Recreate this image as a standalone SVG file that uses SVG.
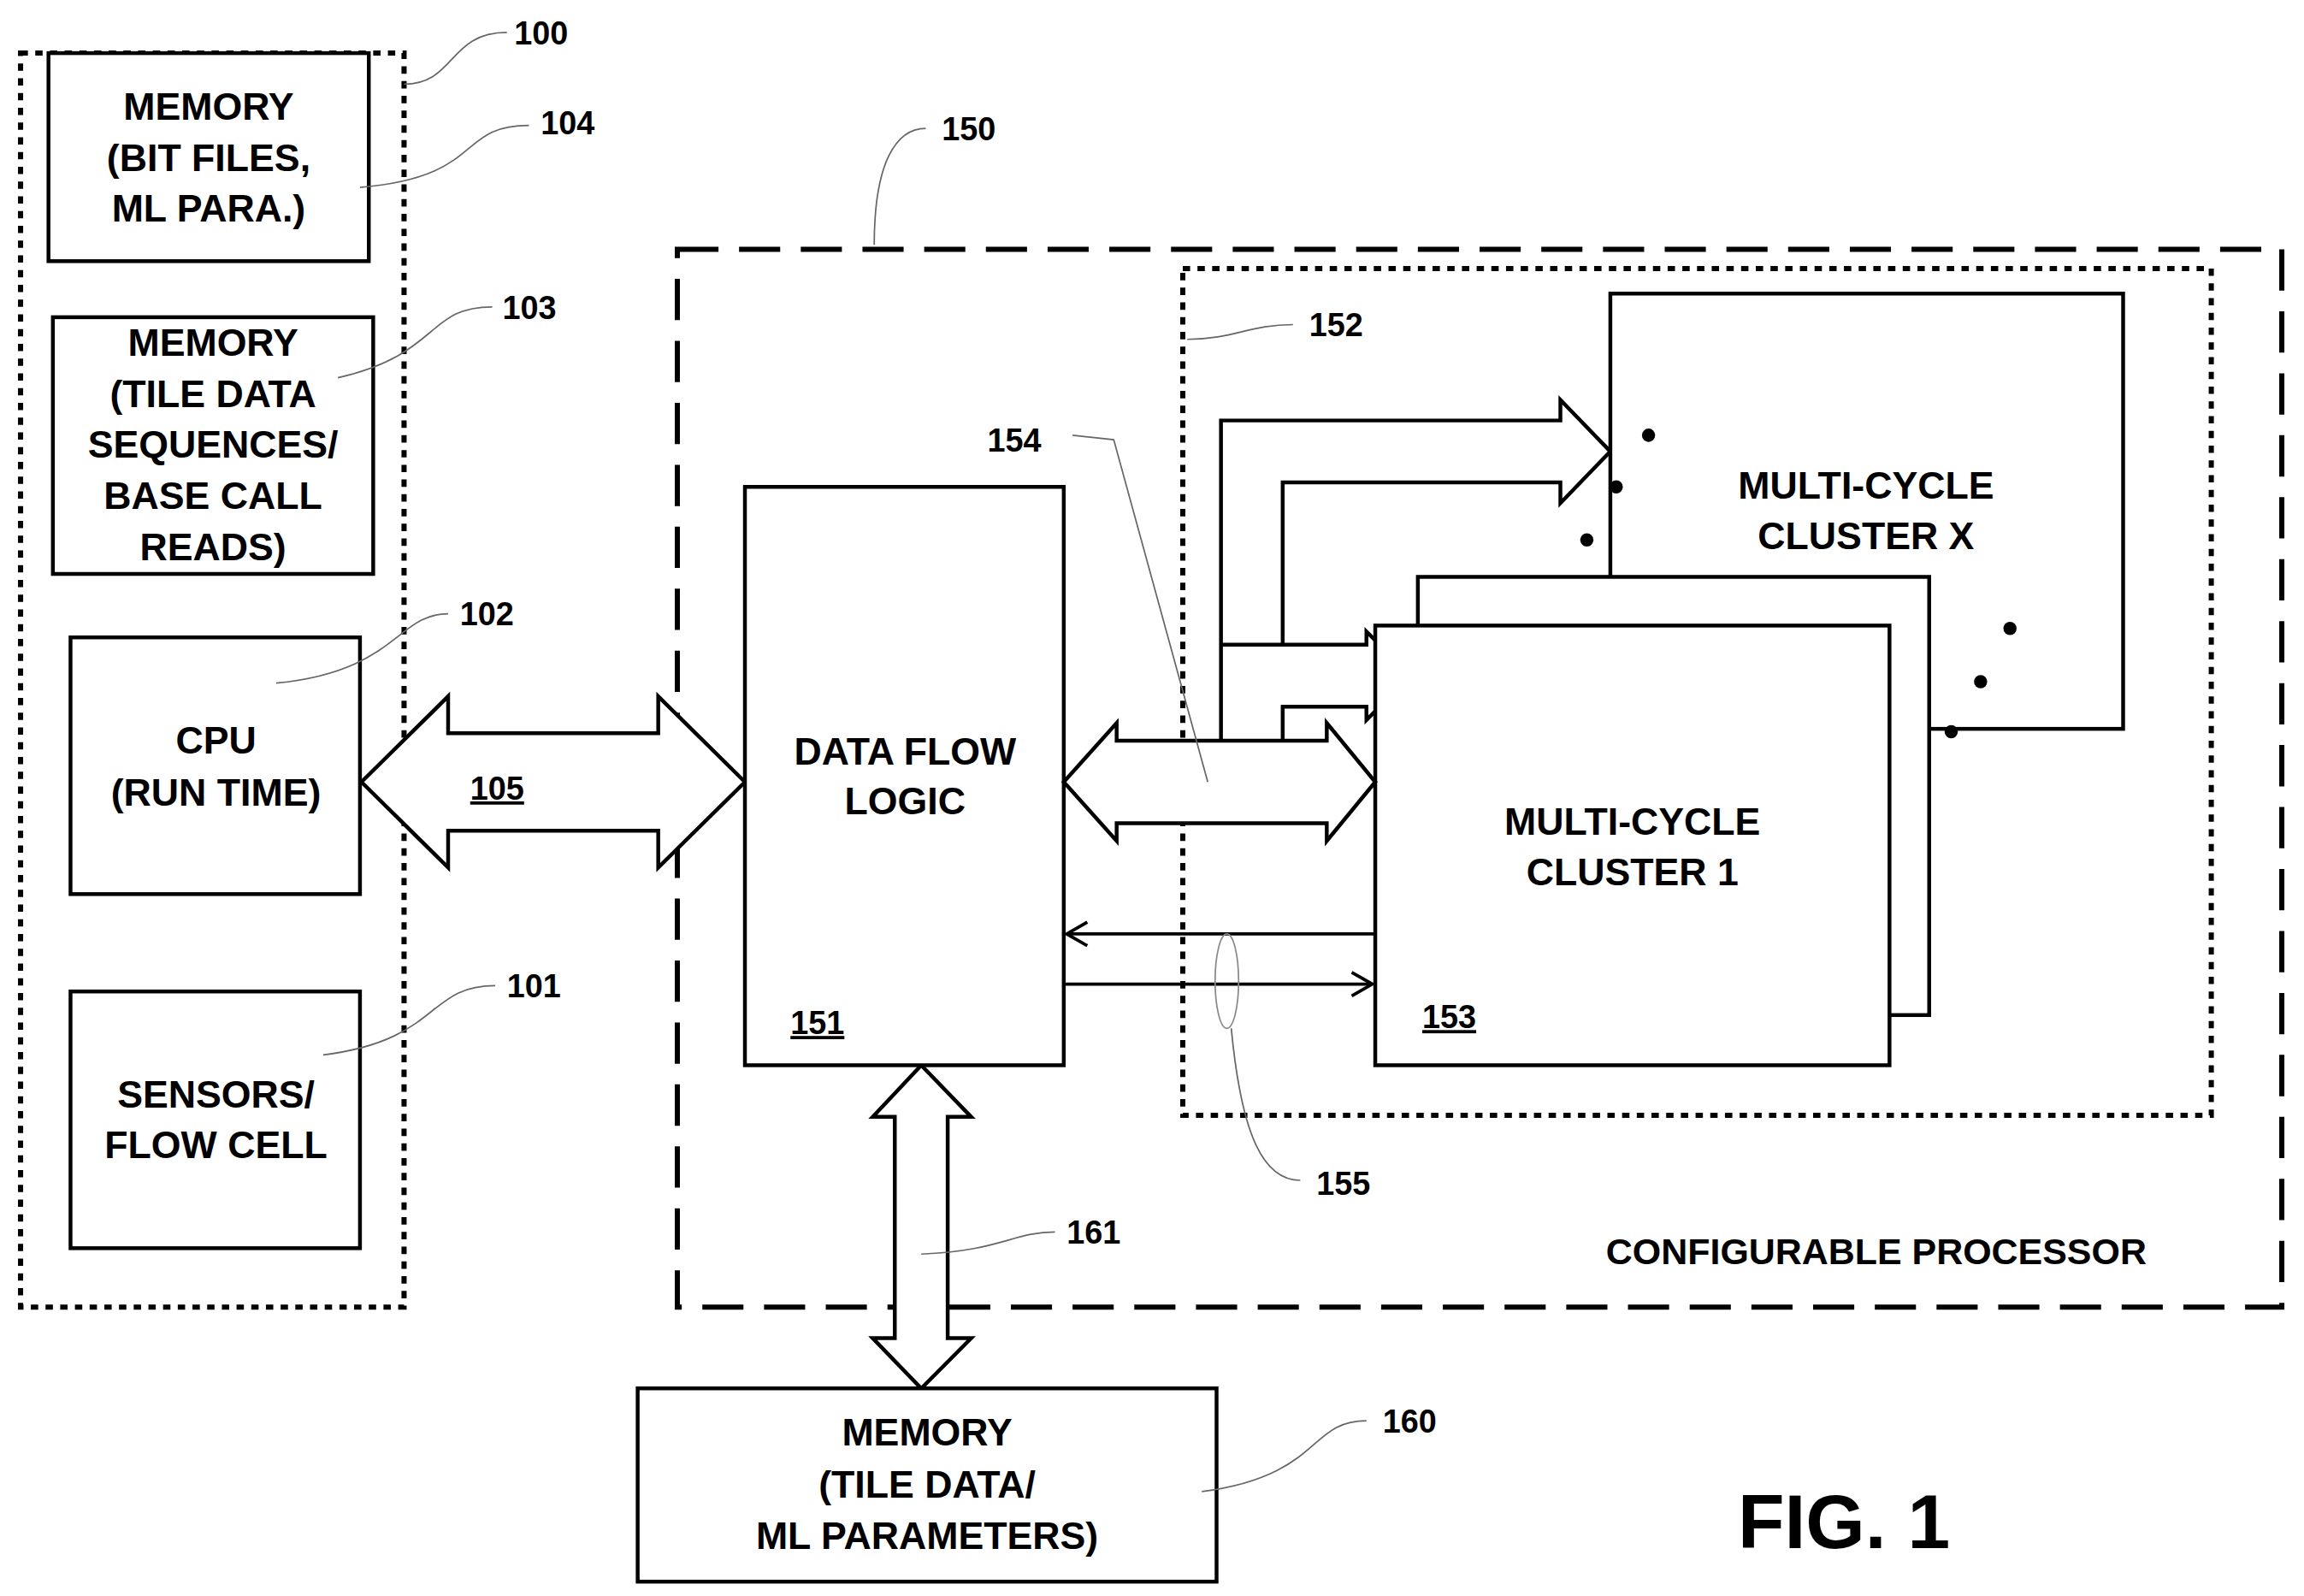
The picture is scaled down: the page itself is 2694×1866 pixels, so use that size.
<svg xmlns="http://www.w3.org/2000/svg" width="2694" height="1866" viewBox="0 0 2694 1866">
<style>
.b{fill:#fff;stroke:#000;stroke-width:2.6}
.t{font-family:"Liberation Sans",Arial,sans-serif;font-weight:bold;font-size:26px;text-anchor:middle;fill:#000}
.n{font-family:"Liberation Sans",Arial,sans-serif;font-weight:bold;font-size:22px;fill:#000}
.l{fill:none;stroke:#666;stroke-width:1}
.dot{fill:none;stroke:#000;stroke-width:3.5;stroke-dasharray:5 5}
.dash{fill:none;stroke:#000;stroke-width:3.5;stroke-dasharray:28 14}
.a{fill:#fff;stroke:#000;stroke-width:2.6;stroke-linejoin:miter}
</style>
<rect width="2694" height="1866" fill="#fff"/>
<g transform="scale(1.718,1.725)">
<g id="host"><rect class="dot" x="14" y="36" width="261" height="850"/></g>
<g id="processor"><rect class="dash" x="461" y="169" width="1092" height="717"/>
<text class="t" x="1277" y="857" style="font-size:25px">CONFIGURABLE PROCESSOR</text></g>
<g id="clusterGroup"><rect class="dot" x="805" y="182" width="700" height="574"/></g>

<g id="connectors">
<polygon class="a" points="246,530 305,472 305,497 448,497 448,472 507,530 448,588 448,563 305,563 305,588"/>
<polyline class="a" style="fill:none" points="831,502 831,285 1062,285 1062,271 1096,306 1062,341 1062,327 873,327 873,437"/>
<polyline class="a" style="fill:none" points="831,437 930,437 930,428 960,458 930,488 930,479 873,479 873,502"/>
<polygon class="a" points="594,757 627,722 661,757 645,757 645,907 661,907 627,941 594,907 609,907 609,757"/>
<line x1="936" y1="633" x2="728" y2="633" stroke="#000" stroke-width="2.2"/>
<polyline points="740,625 726,633 740,641" fill="none" stroke="#000" stroke-width="2.2"/>
<line x1="724" y1="667" x2="932" y2="667" stroke="#000" stroke-width="2.2"/>
<polyline points="920,659 934,667 920,675" fill="none" stroke="#000" stroke-width="2.2"/>
<ellipse cx="835" cy="665" rx="8" ry="32" fill="none" stroke="#888" stroke-width="1"/>
</g>

<g id="n104"><rect class="b" x="33" y="36" width="218" height="141"/>
<text class="t" x="142" y="81">MEMORY</text><text class="t" x="142" y="116">(BIT FILES,</text><text class="t" x="142" y="150">ML PARA.)</text></g>
<g id="n103"><rect class="b" x="36" y="215" width="218" height="174"/>
<text class="t" x="145" y="241">MEMORY</text><text class="t" x="145" y="276">(TILE DATA</text><text class="t" x="145" y="310">SEQUENCES/</text><text class="t" x="145" y="345">BASE CALL</text><text class="t" x="145" y="380">READS)</text></g>
<g id="n102"><rect class="b" x="48" y="432" width="197" height="174"/>
<text class="t" x="147" y="511">CPU</text><text class="t" x="147" y="546">(RUN TIME)</text></g>
<g id="n101"><rect class="b" x="48" y="672" width="197" height="174"/>
<text class="t" x="147" y="751">SENSORS/</text><text class="t" x="147" y="785">FLOW CELL</text></g>
<g id="n151"><rect class="b" x="507" y="330" width="217" height="392"/>
<text class="t" x="616" y="518">DATA FLOW</text><text class="t" x="616" y="552">LOGIC</text>
<text class="n" x="538" y="701" text-decoration="underline">151</text></g>
<g id="nX"><rect class="b" x="1096" y="199" width="349" height="295"/>
<text class="t" x="1270" y="338">MULTI-CYCLE</text><text class="t" x="1270" y="372">CLUSTER X</text></g>
<g id="nMid"><rect class="b" x="965" y="391" width="348" height="297"/></g>
<g id="n153"><rect class="b" x="936" y="424" width="350" height="298"/>
<text class="t" x="1111" y="566">MULTI-CYCLE</text><text class="t" x="1111" y="600">CLUSTER 1</text>
<text class="n" x="968" y="697" text-decoration="underline">153</text></g>
<g id="dots" fill="#000"><circle cx="1122" cy="295" r="4.5"/><circle cx="1100" cy="330" r="4.5"/><circle cx="1080" cy="366" r="4.5"/><circle cx="1368" cy="426" r="4.5"/><circle cx="1348" cy="462" r="4.5"/><circle cx="1328" cy="496" r="4.5"/></g>
<g id="a154"><polygon class="a" points="724,530 760,490 760,502 903,502 903,490 936,530 903,570 903,558 760,558 760,570"/></g>
<g id="n160"><rect class="b" x="434" y="941" width="394" height="131"/>
<text class="t" x="631" y="980">MEMORY</text><text class="t" x="631" y="1015">(TILE DATA/</text><text class="t" x="631" y="1050">ML PARAMETERS)</text></g>

<g id="labels">
<text class="n" x="320" y="542" text-decoration="underline">105</text>
<path class="l" d="M275,57 C310,57 305,22 345,22"/><text class="n" x="350" y="30">100</text>
<path class="l" d="M245,127 C330,120 310,85 360,85"/><text class="n" x="368" y="91">104</text>
<path class="l" d="M230,256 C300,240 290,208 335,208"/><text class="n" x="342" y="216">103</text>
<path class="l" d="M188,463 C270,455 270,416 305,416"/><text class="n" x="313" y="424">102</text>
<path class="l" d="M220,715 C300,705 290,668 337,668"/><text class="n" x="345" y="676">101</text>
<path class="l" d="M595,166 C595,110 610,87 630,87"/><text class="n" x="641" y="95">150</text>
<path class="l" d="M808,230 C840,230 850,220 880,220"/><text class="n" x="891" y="228">152</text>
<path class="l" d="M822,530 L758,298 L730,295"/><text class="n" x="672" y="306">154</text>
<path class="l" d="M838,697 C845,770 860,800 885,800"/><text class="n" x="896" y="810">155</text>
<path class="l" d="M627,850 C680,848 690,835 718,835"/><text class="n" x="726" y="843">161</text>
<path class="l" d="M818,1011 C900,1000 890,963 930,963"/><text class="n" x="941" y="971">160</text>
<text class="t" x="1255" y="1049" style="font-size:52px">FIG. 1</text>
</g>
</g>
</svg>
